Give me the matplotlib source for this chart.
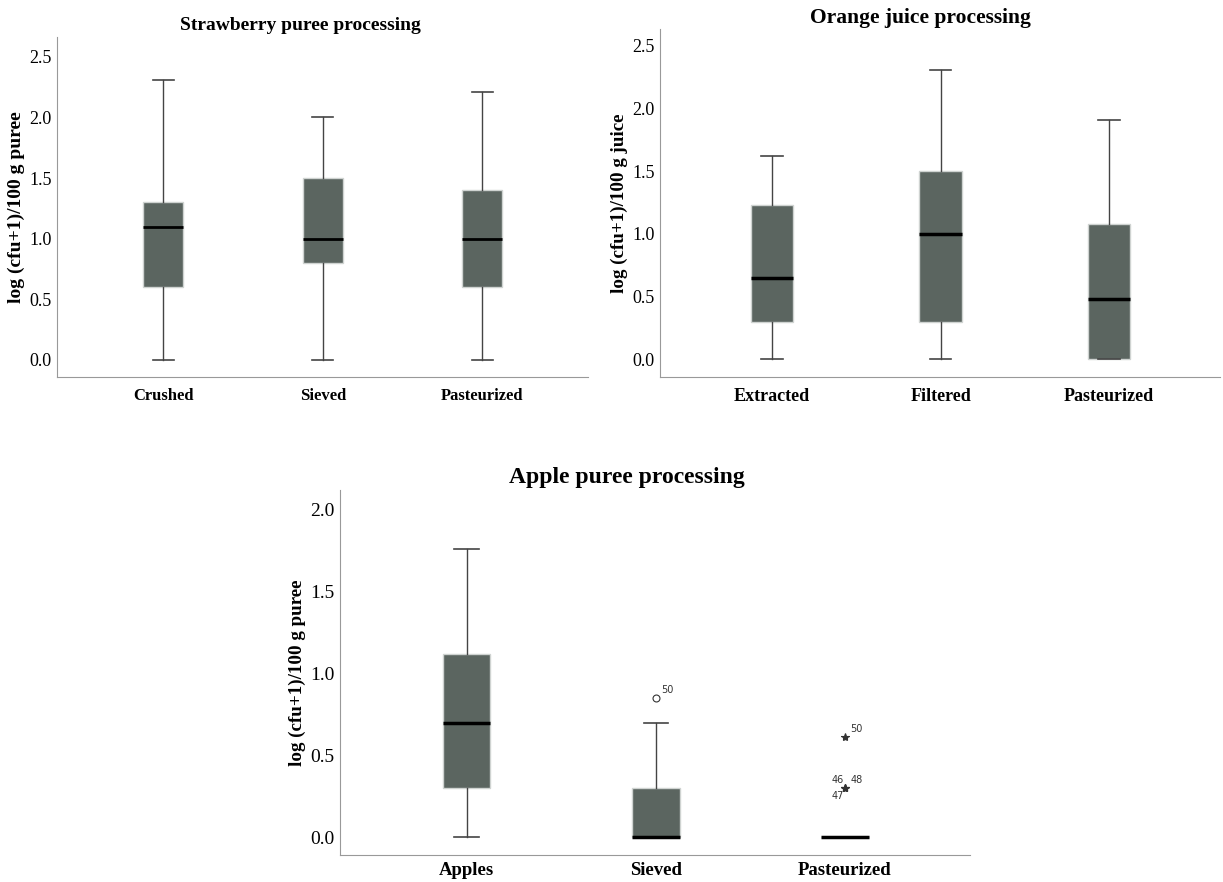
import numpy as np
import matplotlib
matplotlib.use("Agg")
import matplotlib.pyplot as plt

plt.rcParams['font.family'] = ['Liberation Serif', 'DejaVu Serif']

# strawberry puree
straw_cats = ["Crushed", "Sieved", "Pasteurized"]
straw_low = [0.0, 0.0, 0.0]
straw_q1 = [0.6, 0.8, 0.6]
straw_med = [1.1, 1.0, 1.0]
straw_q3 = [1.3, 1.5, 1.4]
straw_high = [2.31, 2.0, 2.21]

# orange juice
orange_cats = ["Extracted", "Filtered", "Pasteurized"]
orange_low = [0.0, 0.0, 0.0]
orange_q1 = [0.3, 0.3, 0.0]
orange_med = [0.65, 1.0, 0.48]
orange_q3 = [1.23, 1.5, 1.08]
orange_high = [1.62, 2.31, 1.91]

# apple puree
apple_cats = ["Apples", "Sieved", "Pasteurized"]
apple_low = [0.0, 0.0, 0.0]
apple_q1 = [0.3, 0.0, 0.0]
apple_med = [0.7, 0.0, 0.0]
apple_q3 = [1.12, 0.3, 0.0]
apple_high = [1.76, 0.7, 0.0]

# outliers: category index, value, case label, marker
apple_out_idx = [1, 2, 2, 2, 2]
apple_out_val = [0.85, 0.61, 0.30, 0.30, 0.30]
apple_out_lab = ["50", "50", "46", "48", "47"]
apple_out_mark = ["o", "*", "*", "*", "*"]
apple_out_offs = [(4, 4), (4, 4), (-10, 4), (4, 4), (-10, -8)]

BOX = "#5b6560"


def draw_panel(ax, cats, lo, q1, med, q3, hi, ylabel, title, title_x, ymin, ymax,
               tick_fs=13, xtick_fs=12, ylab_fs=14, title_fs=14, med_lw=2, xpad=8):
    stats = []
    for i in range(len(cats)):
        stats.append(dict(whislo=lo[i], q1=q1[i], med=med[i], q3=q3[i],
                          whishi=hi[i], fliers=[]))
    ax.bxp(stats, positions=np.arange(len(cats)), widths=0.25,
           patch_artist=True, showfliers=False,
           boxprops=dict(facecolor=BOX, edgecolor="#cfd3d1", linewidth=1),
           medianprops=dict(color="black", linewidth=med_lw),
           whiskerprops=dict(color="#444444", linewidth=1),
           capprops=dict(color="#444444", linewidth=1.2),
           capwidths=0.13)
    ax.set_xlim(-0.665, 2.66)
    ax.set_ylim(ymin, ymax)
    ax.set_xticks(np.arange(len(cats)))
    ax.set_xticklabels(cats, fontsize=xtick_fs, fontweight="bold")
    yt = np.arange(0, ymax, 0.5)
    ax.set_yticks(yt)
    ax.set_yticklabels(["%.1f" % v for v in yt], fontsize=tick_fs)
    ax.tick_params(axis="x", length=0, pad=xpad)
    ax.tick_params(axis="y", length=0, pad=4)
    ax.set_ylabel(ylabel, fontsize=ylab_fs, fontweight="bold", labelpad=3)
    ax.set_title(title, fontsize=title_fs, fontweight="bold", x=title_x, pad=5)
    for s in ["top", "right"]:
        ax.spines[s].set_visible(False)
    for s in ["left", "bottom"]:
        ax.spines[s].set_color("#999999")


fig = plt.figure(figsize=(12.23, 8.82), dpi=100)
ax1 = fig.add_axes([0.0466, 0.5726, 0.434, 0.385])
ax2 = fig.add_axes([0.5397, 0.5726, 0.458, 0.394])
ax3 = fig.add_axes([0.278, 0.0306, 0.515, 0.414])

draw_panel(ax1, straw_cats, straw_low, straw_q1, straw_med, straw_q3, straw_high,
           "log (cfu+1)/100 g puree", "Strawberry puree processing", 0.458, -0.14, 2.66)
draw_panel(ax2, orange_cats, orange_low, orange_q1, orange_med, orange_q3, orange_high,
           "log (cfu+1)/100 g juice", "Orange juice processing", 0.464, -0.14, 2.63,
           xtick_fs=13, ylab_fs=13.7, title_fs=15.5, med_lw=2.5)
draw_panel(ax3, apple_cats, apple_low, apple_q1, apple_med, apple_q3, apple_high,
           "log (cfu+1)/100 g puree", "Apple puree processing", 0.456, -0.107, 2.12,
           tick_fs=14, xtick_fs=13.5, ylab_fs=13.7, title_fs=17, med_lw=2.5, xpad=5)
ax3.set_xlim(-0.67, 2.66)

for i in range(len(apple_out_val)):
    m = apple_out_mark[i]
    ax3.plot(apple_out_idx[i], apple_out_val[i], marker=m, linestyle="none",
             markersize=5 if m == "o" else 6,
             markerfacecolor="white" if m == "o" else "#333333",
             markeredgecolor="#333333", markeredgewidth=0.8)
    ax3.annotate(apple_out_lab[i], (apple_out_idx[i], apple_out_val[i]),
                 xytext=apple_out_offs[i], textcoords="offset points",
                 fontsize=7, family="DejaVu Sans", color="#333333")

fig.savefig("out.png", dpi=100)
